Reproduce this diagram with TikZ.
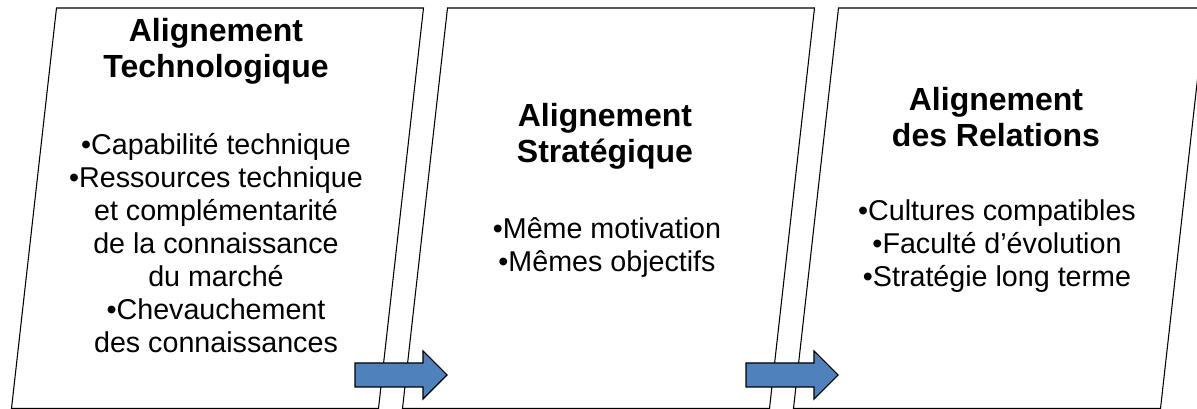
\documentclass[tikz,border=0pt]{standalone}
\usepackage{fontspec}
\setmainfont{Liberation Sans}
\usepackage{tikz}
\definecolor{arrowblue}{HTML}{4F81BD}
\tikzset{
    panel/.style={draw=black, line width=0.8pt, fill=white},
    blockarrow/.style={draw=black, line width=0.8pt, fill=arrowblue},
    paneltitle/.style={align=center, inner sep=0pt, anchor=base,
        font=\fontsize{24}{27.6}\selectfont\bfseries},
    panelitems/.style={align=center, inner sep=0pt, anchor=base,
        font=\fontsize{21.5}{24.75}\selectfont}
}

\begin{document}
\begin{tikzpicture}[x=0.75pt, y=-0.75pt]
        \useasboundingbox (0,0) rectangle (1197,409);
        \clip (0,0) rectangle (1197,409);

        \foreach \i in {0, 1, 2}
        {
            \draw[panel]
            ({11.5+391*\i},408.5) -- ({56.5+391*\i},8) -- ({423.5+391*\i},8)
            -- ({378.5+391*\i},408.5) -- cycle;
        }

        \foreach \i in {0, 1}
        {
            \draw[blockarrow]
            ({355+391*\i},363) -- ({423+391*\i},363) -- ({423+391*\i},351)
            -- ({447+391*\i},375) -- ({423+391*\i},399) -- ({423+391*\i},387)
            -- ({355+391*\i},387) -- cycle;
        }

        % anchor=base sits on the last line
        \node[paneltitle] (title1) at (216,78)
        {Alignement\\Technologique};
        \node[panelitems] (items1) at (216,353)
        {•Capabilité technique\\•Ressources technique\\et complémentarité\\de la connaissance\\du marché\\•Chevauchement\\des connaissances};

        \node[paneltitle] (title2) at (605,163)
        {Alignement\\Stratégique};
        \node[panelitems] (items2) at (607,272)
        {•Même motivation\\•Mêmes objectifs};

        \node[paneltitle] (title3) at (996,147)
        {Alignement\\des Relations};
        \node[panelitems] (items3) at (997,287)
        {•Cultures compatibles\\•Faculté d’évolution\\•Stratégie long terme};
\end{tikzpicture}
\end{document}
